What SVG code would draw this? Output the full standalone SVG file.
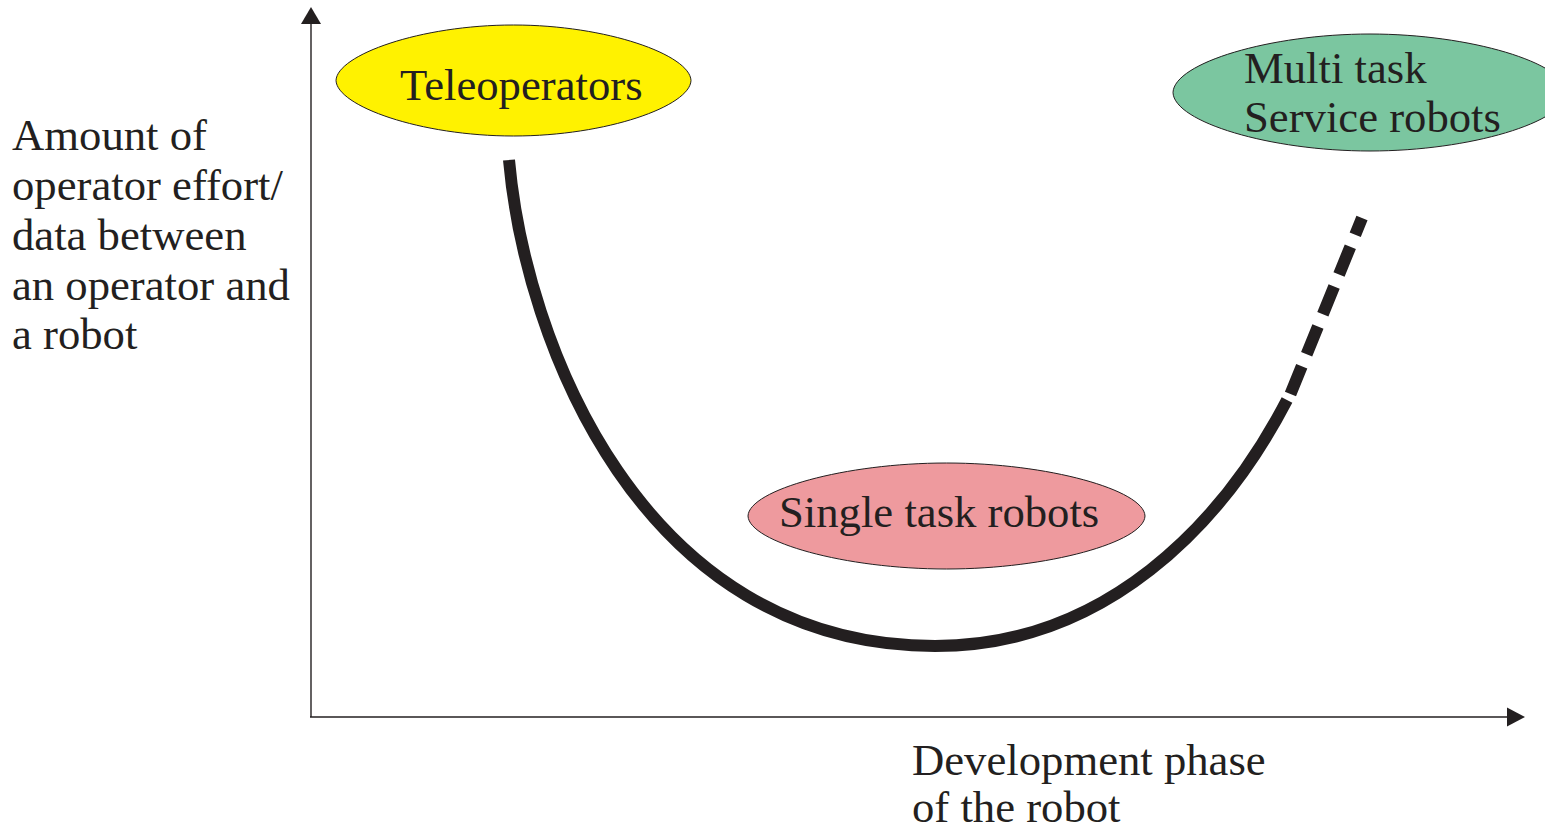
<svg xmlns="http://www.w3.org/2000/svg" width="1545" height="829" viewBox="0 0 1545 829">
  <style>
    .lbl { font-family: "Liberation Serif", "Times New Roman", serif; font-size: 44.7px; fill: #231F20; }
    .node { stroke: #231F20; stroke-width: 1; }
    .axis { stroke: #231F20; stroke-width: 1.4; fill: none; }
    .arrow { fill: #231F20; }
    .curve { stroke: #231F20; stroke-width: 12; fill: none; }
  </style>
  <rect width="1545" height="829" fill="#ffffff"/>

  <!-- axes -->
  <g id="axes">
    <line class="axis" x1="311" y1="717" x2="311" y2="22"/>
    <polygon class="arrow" points="311,7 301,24 321,24"/>
    <line class="axis" x1="310" y1="717" x2="1509" y2="717"/>
    <polygon class="arrow" points="1525,717 1507,707.5 1507,726.5"/>
  </g>

  <!-- effort curve -->
  <g id="connectors">
    <path class="curve" d="M509,160 C525,340 640,646 935,646 C1105,646 1222,525 1287,400"/>
    <line class="curve" x1="1362" y1="218" x2="1286" y2="405" stroke-width="13" stroke-dasharray="30 13" stroke-dashoffset="12"/>
  </g>

  <g id="teleoperators">
    <path class="node" fill="#FFF200" d="M336,80.5 C337,55 420,25 513.5,25 C607,25 690,55 691,80.5 C690,106 607,136 513.5,136 C420,136 337,106 336,80.5 Z"/>
    <text class="lbl" x="400" y="100">Teleoperators</text>
  </g>

  <g id="multi-task">
    <path class="node" fill="#7BC6A0" d="M1173,92.5 C1174,63 1270,34 1370,34 C1470,34 1566,63 1567,92.5 C1566,122 1470,151 1370,151 C1270,151 1174,122 1173,92.5 Z"/>
    <text class="lbl" x="1244" y="83">Multi task</text>
    <text class="lbl" x="1244" y="132">Service robots</text>
  </g>

  <g id="single-task">
    <path class="node" fill="#EE9A9E" d="M748,516 C749,490 845,463 946.5,463 C1048,463 1144,490 1145,516 C1144,542 1048,569 946.5,569 C845,569 749,542 748,516 Z"/>
    <text class="lbl" x="779" y="527">Single task robots</text>
  </g>

  <g id="y-label">
    <text class="lbl" x="12" y="150">Amount of</text>
    <text class="lbl" x="12" y="200">operator effort/</text>
    <text class="lbl" x="12" y="250">data between</text>
    <text class="lbl" x="12" y="300">an operator and</text>
    <text class="lbl" x="12" y="349">a robot</text>
  </g>

  <g id="x-label">
    <text class="lbl" x="912" y="775">Development phase</text>
    <text class="lbl" x="912" y="822">of the robot</text>
  </g>
</svg>
